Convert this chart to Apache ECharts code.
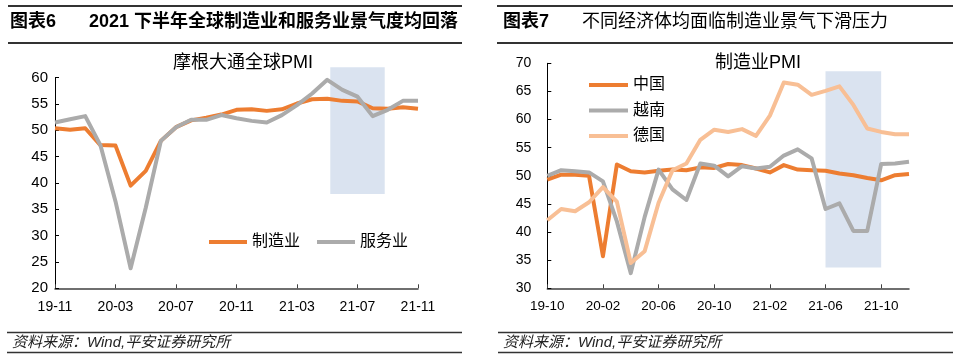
<!DOCTYPE html>
<html><head><meta charset="utf-8">
<script src="https://cdn.jsdelivr.net/npm/echarts@6/dist/echarts.min.js"></script>
<style>html,body{margin:0;padding:0;background:#fff}#c{width:959px;height:364px}</style>
</head><body><div id="c"></div>
<script>
// ---------- data ----------
const leftCats = ['19-11','19-12','20-01','20-02','20-03','20-04','20-05','20-06','20-07','20-08','20-09','20-10','20-11','20-12','21-01','21-02','21-03','21-04','21-05','21-06','21-07','21-08','21-09','21-10','21-11'];
const leftMfg = [50.4,50.1,50.4,47.2,47.1,39.5,42.3,48.0,50.6,51.9,52.4,53.0,53.9,54.0,53.7,54.0,55.1,55.9,56.0,55.6,55.5,54.2,54.1,54.4,54.1];
const leftSvc = [51.5,52.1,52.7,47.2,36.5,23.8,35.3,48.0,50.6,52.0,52.0,52.9,52.3,51.8,51.5,52.9,54.8,57.0,59.6,57.7,56.4,52.7,53.9,55.6,55.6];
const leftShadeX = [18.2, 21.8];   // month index range of highlight box
const leftShadeY = [37.9, 62.0];

const rightCats = ['19-10','19-11','19-12','20-01','20-02','20-03','20-04','20-05','20-06','20-07','20-08','20-09','20-10','20-11','20-12','21-01','21-02','21-03','21-04','21-05','21-06','21-07','21-08','21-09','21-10','21-11','21-12'];
const rightChina = [49.3,50.2,50.2,50.0,35.7,52.0,50.8,50.6,50.9,51.1,51.0,51.5,51.4,52.1,51.9,51.3,50.6,51.9,51.1,51.0,50.9,50.4,50.1,49.6,49.2,50.1,50.3];
const rightVN = [50.0,51.0,50.8,50.6,49.0,41.9,32.7,42.7,51.1,47.6,45.7,52.2,51.8,49.9,51.7,51.3,51.6,53.6,54.7,53.1,44.1,45.1,40.2,40.2,52.1,52.2,52.5];
const rightDE = [42.1,44.1,43.7,45.3,48.0,45.4,34.5,36.6,45.2,51.0,52.2,56.4,58.2,57.8,58.3,57.1,60.7,66.6,66.2,64.4,65.1,65.9,62.6,58.4,57.8,57.4,57.4];
const rightShadeX = ['21-06', '21-10'];
const rightShadeY = [33.7, 68.6];

const leftTicks = {min: 20, max: 60, step: 5};
const rightTicks = {min: 30, max: 70, step: 5};
const labelEvery = 4;

// ---------- style ----------
const FF = '"Liberation Sans", Arial, "Noto Sans CJK SC", sans-serif';
const ORANGE = '#ED7D31', GREY = '#ABABAB', LORANGE = '#F8BF95';
const SHADE = 'rgba(140,168,208,0.32)';
const AX = '#404040';

const chart = echarts.init(document.getElementById('c'));

// left plot geometry; the highlight box reaches above the top tick, so it lives
// in an overlay grid sharing the same scale but extended up to the box's top value
const LG = {left: 55, top: 77.7, width: 363, height: 210.6};
const pxPerUnit = LG.height / (leftTicks.max - leftTicks.min);
const overTop = LG.top - (leftShadeY[1] - leftTicks.max) * pxPerUnit;

const every = (i) => i % labelEvery === 0;

function catAxis(grid, data, margin, fs) {
  return {
    type: 'category', gridIndex: grid, data: data, boundaryGap: false,
    axisLine: {lineStyle: {color: AX, width: 1.5}},
    axisTick: {inside: true, length: 4, interval: every, lineStyle: {color: AX, width: 1}},
    axisLabel: {interval: every, fontSize: fs, color: '#000', fontFamily: FF, margin: margin},
    splitLine: {show: false}
  };
}
function valAxis(grid, t, margin, fs) {
  return {
    type: 'value', gridIndex: grid, min: t.min, max: t.max, interval: t.step,
    axisLine: {show: true, lineStyle: {color: '#000', width: 1}},
    axisTick: {show: true, inside: true, length: 4, lineStyle: {color: '#000'}},
    axisLabel: {fontSize: fs, color: '#000', fontFamily: FF, margin: margin},
    splitLine: {show: false}
  };
}
function lineSeries(name, xi, yi, data, color) {
  return {
    name: name, type: 'line', xAxisIndex: xi, yAxisIndex: yi, data: data,
    symbol: 'none', smooth: false, lineStyle: {color: color, width: 4, join: 'round'},
    itemStyle: {color: color}, emphasis: {disabled: true}, animation: false
  };
}

const rule = (x1, x2, y, w) => ({type: 'line', shape: {x1, y1: y, x2, y2: y}, style: {stroke: '#333', lineWidth: w}, silent: true});
const txt = (x, y, text, font, extra) => ({type: 'text', x, y, style: Object.assign({text, font, fill: '#000', verticalAlign: 'middle', textVerticalAlign: 'middle'}, extra || {}), silent: true});

const option = {
  animation: false,
  grid: [
    LG,
    {left: 547.3, top: 63.3, width: 361.7, height: 225},
    {left: LG.left, top: overTop, width: LG.width, height: LG.top + LG.height - overTop}
  ],
  xAxis: [
    catAxis(0, leftCats, 12, 14),
    catAxis(1, rightCats, 11, 13.5),
    {type: 'value', gridIndex: 2, min: 0, max: leftCats.length - 1, show: false}
  ],
  yAxis: [
    valAxis(0, leftTicks, 7, 15),
    valAxis(1, rightTicks, 16, 14),
    {type: 'value', gridIndex: 2, min: leftTicks.min, max: leftShadeY[1], show: false}
  ],
  legend: [
    {data: ['制造业', '服务业'], left: 204, top: 229, orient: 'horizontal', icon: 'rect', itemWidth: 38, itemHeight: 4, itemGap: 17,
     textStyle: {fontSize: 16, color: '#000', fontFamily: FF}, selectedMode: false},
    {data: ['中国', '越南', '德国'], left: 584, top: 72, orient: 'vertical', icon: 'rect', itemWidth: 39, itemHeight: 4, itemGap: 9.5,
     textStyle: {fontSize: 16, color: '#000', fontFamily: FF}, selectedMode: false}
  ],
  series: [
    lineSeries('制造业', 0, 0, leftMfg, ORANGE),
    lineSeries('服务业', 0, 0, leftSvc, GREY),
    {type: 'line', xAxisIndex: 2, yAxisIndex: 2, data: [], z: 10, silent: true,
     markArea: {silent: true, itemStyle: {color: SHADE}, data: [[{coord: [leftShadeX[0], leftShadeY[1]]}, {coord: [leftShadeX[1], leftShadeY[0]]}]]}},
    lineSeries('中国', 1, 1, rightChina, ORANGE),
    lineSeries('越南', 1, 1, rightVN, GREY),
    lineSeries('德国', 1, 1, rightDE, LORANGE),
    {type: 'line', xAxisIndex: 1, yAxisIndex: 1, data: [], z: 10, silent: true,
     markArea: {silent: true, itemStyle: {color: SHADE}, data: [[{coord: [rightShadeX[0], rightShadeY[1]]}, {coord: [rightShadeX[1], rightShadeY[0]]}]]}}
  ],
  graphic: [
    rule(8, 462, 6, 2), rule(8, 462, 43, 2),
    rule(497, 953, 6, 2), rule(497, 953, 43, 2),
    rule(7, 462, 332.5, 1.3), rule(7, 462, 352.5, 1.3),
    rule(498, 953, 332.5, 1.3), rule(498, 953, 352.5, 1.3),
    txt(10, 22, '图表6', 'bold 18px ' + FF),
    txt(89, 22, '2021 下半年全球制造业和服务业景气度均回落', 'bold 18px ' + FF),
    txt(503, 22, '图表7', 'bold 18px ' + FF),
    txt(582, 22, '不同经济体均面临制造业景气下滑压力', '18px ' + FF),
    txt(173, 63.5, '摩根大通全球PMI', '18px ' + FF),
    txt(715, 63, '制造业PMI', '18px ' + FF),
    txt(12, 343, '资料来源：Wind,平安证券研究所', 'italic 15px ' + FF, {fill: '#222'}),
    txt(503, 343, '资料来源：Wind,平安证券研究所', 'italic 15px ' + FF, {fill: '#222'})
  ]
};
chart.setOption(option);
</script></body></html>
